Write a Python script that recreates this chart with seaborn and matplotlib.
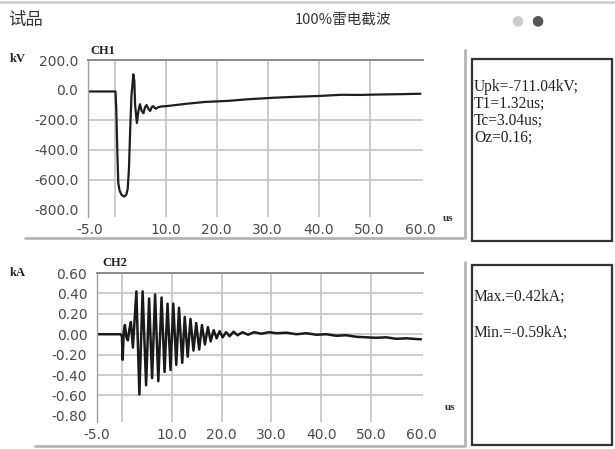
import matplotlib
matplotlib.use("Agg")
import matplotlib.pyplot as plt
import seaborn as sns
from matplotlib.patches import Rectangle
from matplotlib.lines import Line2D

# CH1 - voltage trace (kV)
ch1_t = [-5, 0.1, 0.25, 0.45, 0.65, 0.9, 1.3, 1.8, 2.2, 2.5, 2.75, 3.0, 3.25, 3.45, 3.6,
         3.8, 3.95, 4.3, 4.6, 4.9, 5.25, 5.6, 5.9, 6.2, 6.55, 6.9, 7.2, 7.5, 8.0, 8.5,
         9.1, 10, 12, 14, 17.6, 20, 22.5, 26, 31, 35, 40, 44.5, 48, 52, 56, 60]
ch1_kv = [-10, -10, -120, -400, -620, -670, -700, -711, -700, -660, -520, -250, -30, 40, 105,
          60, -100, -220, -140, -95, -140, -155, -115, -100, -125, -140, -115, -108, -125, -115,
          -110, -108, -100, -92, -80, -76, -72, -62, -52, -46, -40, -32, -33, -30, -28, -25]

# CH2 - current trace (kA)
ch2_t = [-5, -0.3, 0.0, 0.15, 0.35, 0.6, 0.9, 1.2, 1.5, 1.8, 2.2, 2.9, 3.5, 4.15, 4.85,
         5.45, 6.05, 6.65, 7.3, 7.95, 8.55, 9.15, 9.75, 10.3, 10.9, 11.45, 12.1, 12.6, 13.2,
         13.75, 14.35, 14.9, 15.5, 16.05, 16.65, 17.25, 17.8, 18.4, 19.0, 19.6, 20.2, 20.9,
         21.6, 22.4, 23.2, 24.2, 25.3, 26.5, 28, 29.5, 31, 33, 35, 37, 39, 41, 43, 45, 47,
         49, 51, 53, 55, 57, 60]
ch2_ka = [0.0, 0.0, -0.02, -0.25, 0.02, 0.09, -0.03, -0.06, 0.05, 0.12, -0.13, 0.42, -0.59, 0.42, -0.50,
          0.35, -0.43, 0.39, -0.46, 0.36, -0.37, 0.30, -0.35, 0.30, -0.30, 0.26, -0.28, 0.17, -0.22,
          0.15, -0.16, 0.11, -0.15, 0.09, -0.10, 0.07, -0.07, 0.04, -0.04, 0.03, -0.03, 0.02,
          -0.02, 0.025, -0.01, 0.02, -0.005, 0.02, 0.005, 0.02, 0.01, 0.015, 0.0, 0.01, -0.005, 0.0, -0.015, -0.01, -0.025,
          -0.03, -0.035, -0.03, -0.045, -0.04, -0.05]

x_ticks = [-5, 0, 10, 20, 30, 40, 50, 60]
x_labels = ["-5.0", "", "10.0", "20.0", "30.0", "40.0", "50.0", "60.0"]
v_grid = [0, 10, 20, 30, 40, 50]

ch1_yticks = [200, 0, -200, -400, -600, -800]
ch1_ylabels = ["200.0", "0.0", "-200.0", "-400.0", "-600.0", "-800.0"]
ch1_hgrid = [-200, -400, -600]

ch2_yticks = [0.6, 0.4, 0.2, 0.0, -0.2, -0.4, -0.6, -0.8]
ch2_ylabels = ["0.60", "0.40", "0.20", "0.00", "-0.20", "-0.40", "-0.60", "-0.80"]
ch2_hgrid = [0.4, 0.2, 0.0, -0.2, -0.4, -0.6]

ch1_info = ["Upk=-711.04kV;", "T1=1.32us;", "Tc=3.04us;", "Oz=0.16;"]
ch2_info = ["Max.=0.42kA;", "Min.=-0.59kA;"]

sns.set_theme(style="white")
plt.rcParams['font.family'] = ['DejaVu Sans', 'Noto Sans CJK SC']
plt.rcParams['axes.unicode_minus'] = False

W, H = 615, 449
fig = plt.figure(figsize=(W / 100, H / 100), dpi=100)


def fx(px):
    return px / W


def fy(py):
    return 1 - py / H


def pbox(l, t, r, b):
    return [fx(l), fy(b), fx(r) - fx(l), fy(t) - fy(b)]


def fline(x0, y0, x1, y1, c="#b4b4b4", lw=2.0):
    fig.add_artist(Line2D([fx(x0), fx(x1)], [fy(y0), fy(y1)], color=c, lw=lw,
                          transform=fig.transFigure))


def style_axes(ax, yticks, ylabels, hgrid):
    for v in v_grid:
        ax.axvline(v, color="#c8c8c8", lw=1.3, zorder=0)
    for h in hgrid:
        ax.axhline(h, color="#c8c8c8", lw=1.3, zorder=0)
    ax.set_xticks(x_ticks, x_labels)
    ax.set_yticks(yticks, ylabels)
    ax.tick_params(axis="x", direction="in", length=4, width=1, color="#777777",
                   pad=4, labelsize=10, labelcolor="#4a4a4a")
    ax.tick_params(axis="y", direction="out", length=5, width=1, color="#777777",
                   pad=2, labelsize=10, labelcolor="#4a4a4a")
    ax.spines["bottom"].set_visible(False)
    ax.spines["right"].set_visible(False)
    ax.spines["top"].set_color("#8a8a8a")
    ax.spines["top"].set_linewidth(1.4)
    ax.spines["left"].set_color("#a0a0a0")
    ax.spines["left"].set_linewidth(1.0)
    ax.set_xlabel("")
    ax.set_ylabel("")
    ax.set_facecolor("white")


# CH1 panel
ax1 = fig.add_axes(pbox(88, 60, 423, 217))
sns.lineplot(x=ch1_t, y=ch1_kv, ax=ax1, color="#1e1e1e", lw=1.6, estimator=None, sort=False)
ax1.set_xlim(-5.3, 60.5)
ax1.set_ylim(-847, 200)
style_axes(ax1, ch1_yticks, ch1_ylabels, ch1_hgrid)

# CH2 panel
ax2 = fig.add_axes(pbox(97, 273, 423, 422))
sns.lineplot(x=ch2_t, y=ch2_ka, ax=ax2, color="#1a1a1a", lw=1.8, estimator=None, sort=False)
ax2.set_xlim(-5, 60.4)
ax2.set_ylim(-0.86, 0.6)
style_axes(ax2, ch2_yticks, ch2_ylabels, ch2_hgrid)

# header
cjk = ["Noto Sans CJK SC", "DejaVu Sans"]
fig.text(fx(8), fy(20), "试品", family=cjk, fontsize=12.5, va="center", color="#333333")
fig.text(fx(295), fy(20), "100%雷电截波", family=cjk, fontsize=10.5, va="center", color="#333333")
fig.text(fx(517), fy(20), "●", fontsize=10, ha="center", va="center", color="#cccccc")
fig.text(fx(537), fy(20), "●", fontsize=10, ha="center", va="center", color="#555555")
fline(0, 1.5, 615, 1.5, c="#cfcfcf", lw=2)

serif = "Liberation Serif"
fig.text(fx(10), fy(59), "kV", family=serif, weight="bold", fontsize=9, va="center", color="#222222")
fig.text(fx(90), fy(51), "CH1", family=serif, weight="bold", fontsize=9, va="center", color="#222222")
fig.text(fx(448), fy(218), "us", family=serif, weight="bold", fontsize=8, ha="center", va="center", color="#333333")
fig.text(fx(10), fy(273), "kA", family=serif, weight="bold", fontsize=9, va="center", color="#222222")
fig.text(fx(102), fy(263), "CH2", family=serif, weight="bold", fontsize=9, va="center", color="#222222")
fig.text(fx(450), fy(408), "us", family=serif, weight="bold", fontsize=8, ha="center", va="center", color="#333333")

# panel borders
fline(25, 238, 463, 238)
fline(465, 50, 465, 238)
fline(35, 446, 463, 446)
fline(465, 262, 465, 446)

# info boxes
fig.add_artist(Rectangle((fx(472), fy(241)), fx(612) - fx(472), fy(59) - fy(241), fill=False,
                         ec="#333333", lw=1.6, transform=fig.transFigure))
fig.add_artist(Rectangle((fx(472), fy(445)), fx(612) - fx(472), fy(265) - fy(445), fill=False,
                         ec="#333333", lw=1.6, transform=fig.transFigure))
for i, s in enumerate(ch1_info):
    fig.text(fx(474), fy(87 + 17 * i), s, family=serif, fontsize=11.2, va="center", color="#222222")
for i, s in enumerate(ch2_info):
    fig.text(fx(474), fy(297 + 36 * i), s, family=serif, fontsize=11.2, va="center", color="#222222")

fig.savefig("out.png", dpi=100, facecolor="white")
